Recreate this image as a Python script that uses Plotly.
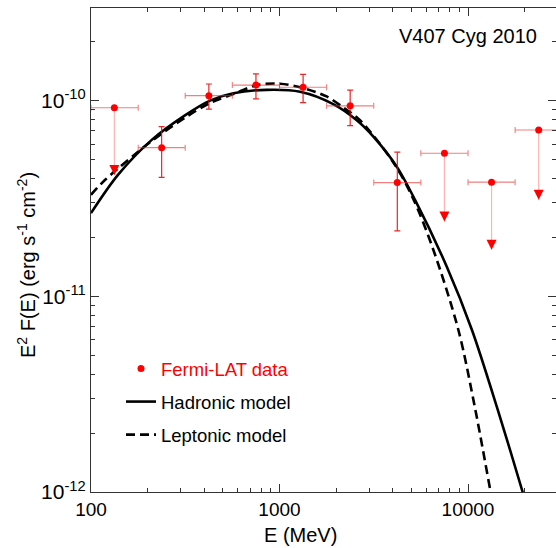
import plotly.graph_objects as go

# ---------------- data ----------------
# Fermi-LAT detections: energy (MeV), bin edges, E^2 F(E) (erg s^-1 cm^-2) and 1-sigma range
det_E = [237, 422, 750, 1334, 2371, 4217]
det_E_lo = [178, 316, 562, 1000, 1778, 3162]
det_E_hi = [316, 562, 1000, 1778, 3162, 5623]
det_F = [5.75e-11, 1.06e-10, 1.20e-10, 1.17e-10, 9.4e-11, 3.81e-11]
det_F_lo = [4.05e-11, 9.04e-11, 1.02e-10, 9.77e-11, 7.45e-11, 2.16e-11]
det_F_hi = [7.36e-11, 1.216e-10, 1.37e-10, 1.36e-10, 1.13e-10, 5.45e-11]

# Fermi-LAT upper limits: value and arrow tip
ul_E = [133, 7499, 13335, 23714]
ul_E_lo = [100, 5623, 10000, 17783]
ul_E_hi = [178, 10000, 17783, 31623]
ul_F = [9.2e-11, 5.38e-11, 3.83e-11, 7.08e-11]
ul_tip = [4.17e-11, 2.41e-11, 1.73e-11, 3.11e-11]

# Hadronic model curve
had_E = [100, 139, 210, 315, 428, 569, 855, 1285, 1928, 2570, 3148, 4188,
         5236, 7709, 10495, 14388, 19498, 21000]
had_F = [2.66e-11, 4.17e-11, 6.30e-11, 8.41e-11, 1.00e-10, 1.09e-10, 1.135e-10,
         1.11e-10, 9.6e-11, 7.94e-11, 6.55e-11, 4.60e-11, 3.11e-11,
         1.42e-11, 6.73e-12, 2.63e-12, 1.0e-12, 7.8e-13]

# Leptonic model curve
lep_E = [100, 119, 210, 315, 428, 569, 757, 1006, 1285, 1778, 2173, 2673, 4102,
         5152, 6546, 8892, 10940, 13183, 13900]
lep_F = [3.3e-11, 3.94e-11, 6.22e-11, 8.17e-11, 9.73e-11, 1.08e-10, 1.20e-10,
         1.22e-10, 1.17e-10, 1.05e-10, 9.23e-11, 7.94e-11, 4.69e-11, 3.11e-11,
         1.73e-11, 6.73e-12, 2.63e-12, 1.0e-12, 7.6e-13]

x_tickvals = [100, 1000, 10000]
y_tickvals = [1e-12, 1e-11, 1e-10]
y_ticktext = ['10<sup>-12</sup>', '10<sup>-11</sup>', '10<sup>-10</sup>']
legend_names = ['<span style="color:#ff0000">Fermi-LAT data</span>',
                'Hadronic model', 'Leptonic model']
label_text = 'V407 Cyg 2010'
x_title = 'E (MeV)'
y_title = 'E<sup>2</sup> F(E) (erg s<sup>-1</sup> cm<sup>-2</sup>)'

# ---------------- figure ----------------
FONT = 'Liberation Sans, Arial, Helvetica, sans-serif'
RED = '#ff0000'
fig = go.Figure()

fig.add_trace(go.Scatter(
    x=had_E, y=had_F, mode='lines', name=legend_names[1], legendrank=2,
    legendgroup='had', line=dict(color='black', width=2.6, shape='spline', smoothing=0.9)))
fig.add_trace(go.Scatter(
    x=lep_E, y=lep_F, mode='lines', name=legend_names[2], legendrank=3,
    legendgroup='lep', line=dict(color='black', width=2.6, dash='9px,5px', shape='spline', smoothing=0.9)))

# upper limits: dot + horizontal bin + faint vertical line + arrow head
fig.add_trace(go.Scatter(
    x=ul_E, y=ul_F, mode='markers', showlegend=False, hoverinfo='skip',
    marker=dict(color=RED, size=7),
    error_x=dict(type='data', symmetric=False,
                 array=[h - e for h, e in zip(ul_E_hi, ul_E)],
                 arrayminus=[e - l for e, l in zip(ul_E, ul_E_lo)],
                 color='rgba(235,40,40,0.6)', thickness=1.1, width=3),
    error_y=dict(type='data', symmetric=False,
                 array=[0] * len(ul_F),
                 arrayminus=[f - t for f, t in zip(ul_F, ul_tip)],
                 color='rgba(255,0,0,0.3)', thickness=1.2, width=0)))
fig.add_trace(go.Scatter(
    x=ul_E, y=ul_tip, mode='markers', showlegend=False, hoverinfo='skip',
    marker=dict(color=RED, size=10, symbol='arrow-down', line=dict(width=0))))

# detections
fig.add_trace(go.Scatter(
    x=det_E, y=det_F, mode='markers', name=legend_names[0], legendrank=1,
    legendgroup='data', marker=dict(color=RED, size=7),
    error_x=dict(type='data', symmetric=False,
                 array=[h - e for h, e in zip(det_E_hi, det_E)],
                 arrayminus=[e - l for e, l in zip(det_E, det_E_lo)],
                 color='rgba(235,40,40,0.6)', thickness=1.1, width=3),
    error_y=dict(type='data', symmetric=False,
                 array=[h - f for h, f in zip(det_F_hi, det_F)],
                 arrayminus=[f - l for f, l in zip(det_F, det_F_lo)],
                 color='rgba(230,0,0,0.85)', thickness=1.2, width=3)))

# empty trace so the right-hand tick axis is drawn
fig.add_trace(go.Scatter(x=[], y=[], yaxis='y2', showlegend=False, hoverinfo='skip'))

AX = '#333333'
W, H = 556, 548
L, R, T, B = 91, 0, 8, 56
pw, ph = W - L - R, H - T - B

minor = dict(ticks='inside', ticklen=4, tickcolor=AX, tickwidth=1, dtick='D1', showgrid=False)
fig.update_layout(
    width=W, height=H,
    margin=dict(l=L, r=R, t=T, b=B, pad=0),
    paper_bgcolor='white', plot_bgcolor='white',
    font=dict(family=FONT, color='black'),
    showlegend=True,
    legend=dict(x=(121 - L) / pw, y=(H - B - 350) / ph, xanchor='left', yanchor='top',
                bgcolor='rgba(0,0,0,0)', font=dict(family=FONT, size=18.5, color='black'),
                tracegroupgap=6, traceorder='grouped'),
    xaxis=dict(type='log', range=[2, 2 + pw / 188.5], tickvals=x_tickvals,
               ticktext=[str(v) for v in x_tickvals],
               showline=True, linecolor=AX, linewidth=1.2, mirror='ticks',
               ticks='inside', ticklen=8, tickcolor=AX, tickwidth=1,
               minor=minor, showgrid=False, zeroline=False,
               tickfont=dict(family=FONT, size=19, color='black'),
               ticklabelstandoff=0),
    yaxis=dict(type='log', range=[-12, -12 + ph / 195.7], tickvals=y_tickvals,
               ticktext=y_ticktext,
               showline=True, linecolor=AX, linewidth=1.2, mirror=False,
               ticks='inside', ticklen=8, tickcolor=AX, tickwidth=1,
               minor=minor, showgrid=False, zeroline=False,
               tickfont=dict(family=FONT, size=21, color='black')),
    yaxis2=dict(type='log', range=[-12, -12 + ph / 195.7], tickvals=y_tickvals,
                overlaying='y', side='right', showline=False, showticklabels=False,
                ticks='inside', ticklen=8, tickcolor=AX, tickwidth=1,
                minor=minor, showgrid=False, zeroline=False),
    annotations=[
        dict(text=label_text, xref='paper', yref='paper', x=(467.5 - L) / pw,
             y=(H - B - 36) / ph, xanchor='center', yanchor='middle', showarrow=False,
             font=dict(family=FONT, size=20, color='black')),
        dict(text=x_title, xref='paper', yref='paper', x=(300.5 - L) / pw,
             y=(H - B - 535) / ph, xanchor='center', yanchor='middle', showarrow=False,
             font=dict(family=FONT, size=20, color='black')),
        dict(text=y_title, xref='paper', yref='paper', x=(26 - L) / pw,
             y=(H - B - 265) / ph, xanchor='center', yanchor='middle', showarrow=False,
             textangle=-90, font=dict(family=FONT, size=20, color='black')),
    ],
)

fig.write_html('out.html', config={'displayModeBar': False},
               post_script="document.body.style.margin='0';document.body.style.overflow='hidden';")
